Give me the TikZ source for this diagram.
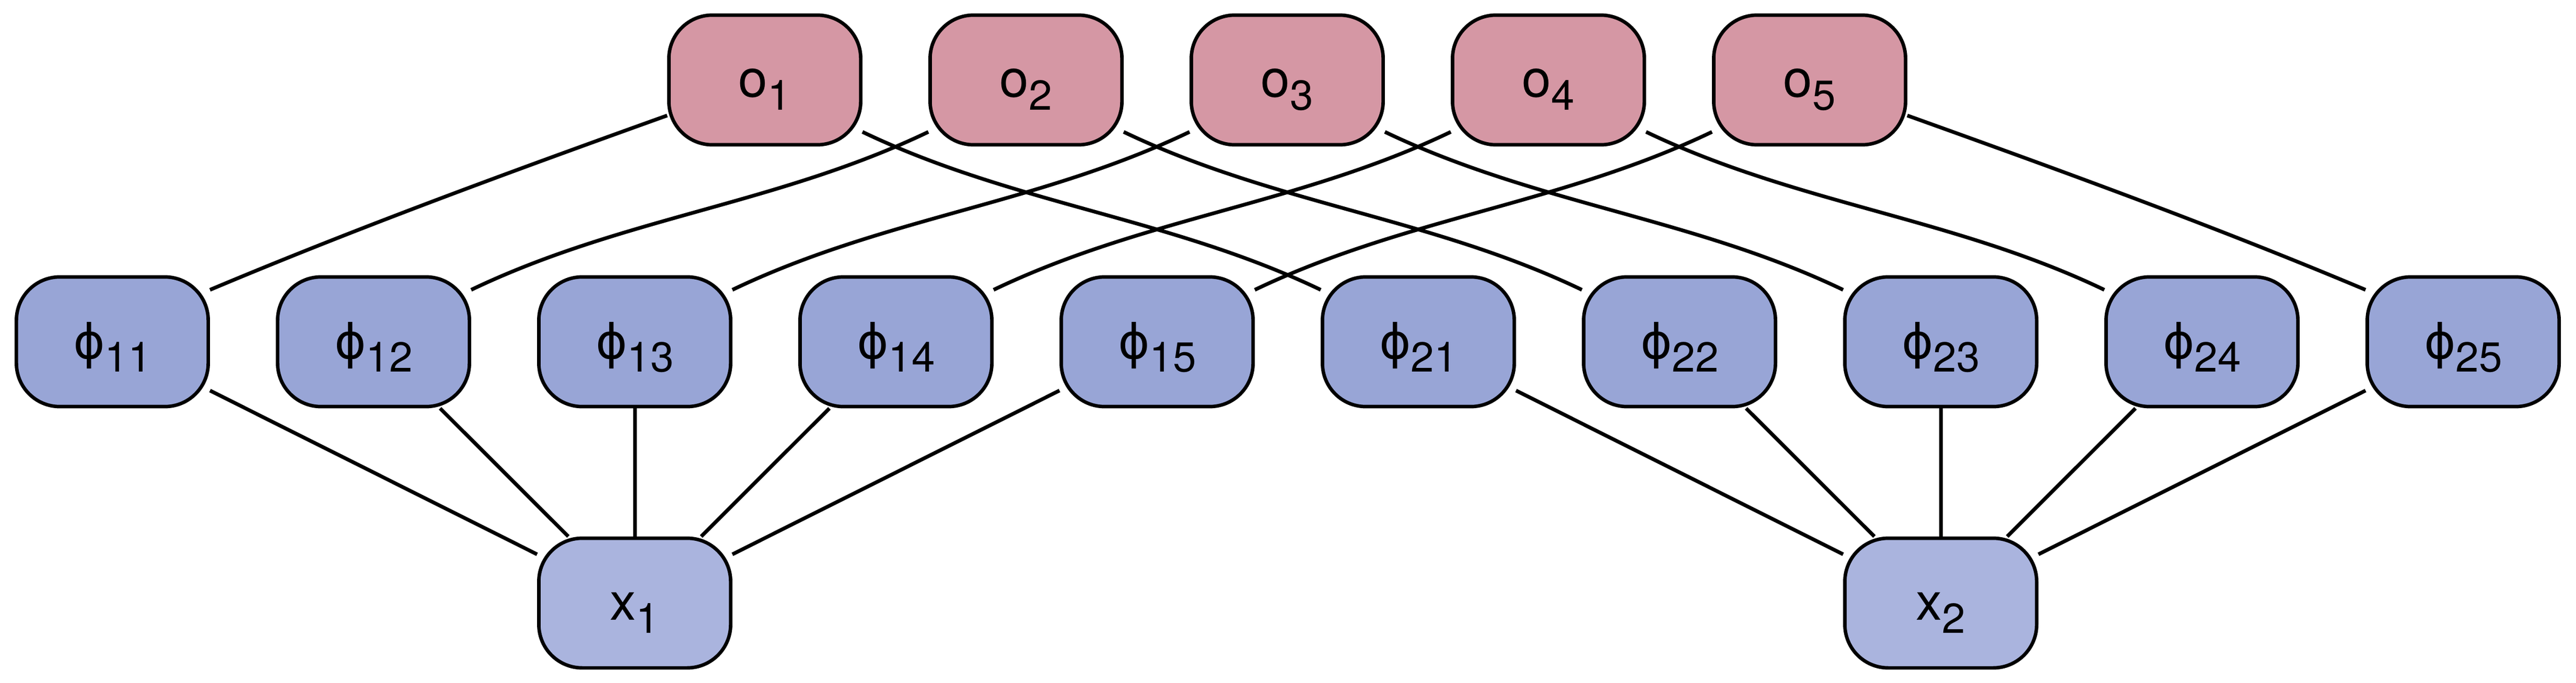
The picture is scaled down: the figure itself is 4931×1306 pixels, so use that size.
\documentclass[tikz,border=0pt]{standalone}
\usepackage{fontspec}
\setmainfont{TeX Gyre Heros}
\newfontfamily\phf{DejaVu Sans}[Scale=0.92]
\definecolor{ocol}{HTML}{D597A4}
\definecolor{pcol}{HTML}{98A5D6}
\definecolor{xcol}{HTML}{AAB4DE}
\newcommand\lbl[2]{#1\raisebox{-0.25cm}{\fontsize{22.8pt}{22.8pt}\selectfont #2}}
\begin{document}
\begin{tikzpicture}[x=0.01cm,y=-0.01cm,
  box/.style={draw=black, line width=1.9pt, rounded corners=0.83cm,
    minimum width=3.67cm, minimum height=2.48cm, inner sep=0pt, outer sep=0.95pt,
    text height=0.64cm, text depth=0pt, font=\fontsize{28.5pt}{28.5pt}\selectfont},
  obox/.style={box, fill=ocol},
  pbox/.style={box, fill=pcol},
  xbox/.style={box, fill=xcol},
  edge/.style={line width=2pt, line cap=butt}]
\useasboundingbox (0,0) rectangle (4931,1306);
% top row
\foreach \i in {1,...,5} {
  \node[obox] (o\i) at ({964+500*\i},153) {\lbl{o}{\i}};
}
% middle row
\foreach \k in {1,...,5} {
  \node[pbox] (p1\k) at ({215+500*(\k-1)},654) {\lbl{{\phf ϕ}}{1\k}};
  \node[pbox] (p2\k) at ({2715+500*(\k-1)},654) {\lbl{{\phf ϕ}}{2\k}};
}
% bottom row
\node[xbox] (x1) at (1215,1154) {\lbl{x}{1}};
\node[xbox] (x2) at (3715,1154) {\lbl{x}{2}};
% edges o -> phi
\draw[edge] (o1.200.5) .. controls +(-290,104) and +(290,-122) .. (p11.28);
\draw[edge] (o5.-20.5) .. controls +(290,104) and +(-290,-122) .. (p25.152);
\foreach \i in {2,...,5} {
  \draw[edge] (o\i.208) .. controls +(-288,138) and +(288,-138) .. (p1\i.28);
}
\foreach \i in {1,...,4} {
  \draw[edge] (o\i.-28) .. controls +(288,138) and +(-288,-138) .. (p2\i.152);
}
% edges phi -> x
\foreach \k in {1,...,5} {
  \draw[edge] (p1\k) -- (x1);
  \draw[edge] (p2\k) -- (x2);
}
\end{tikzpicture}
\end{document}
